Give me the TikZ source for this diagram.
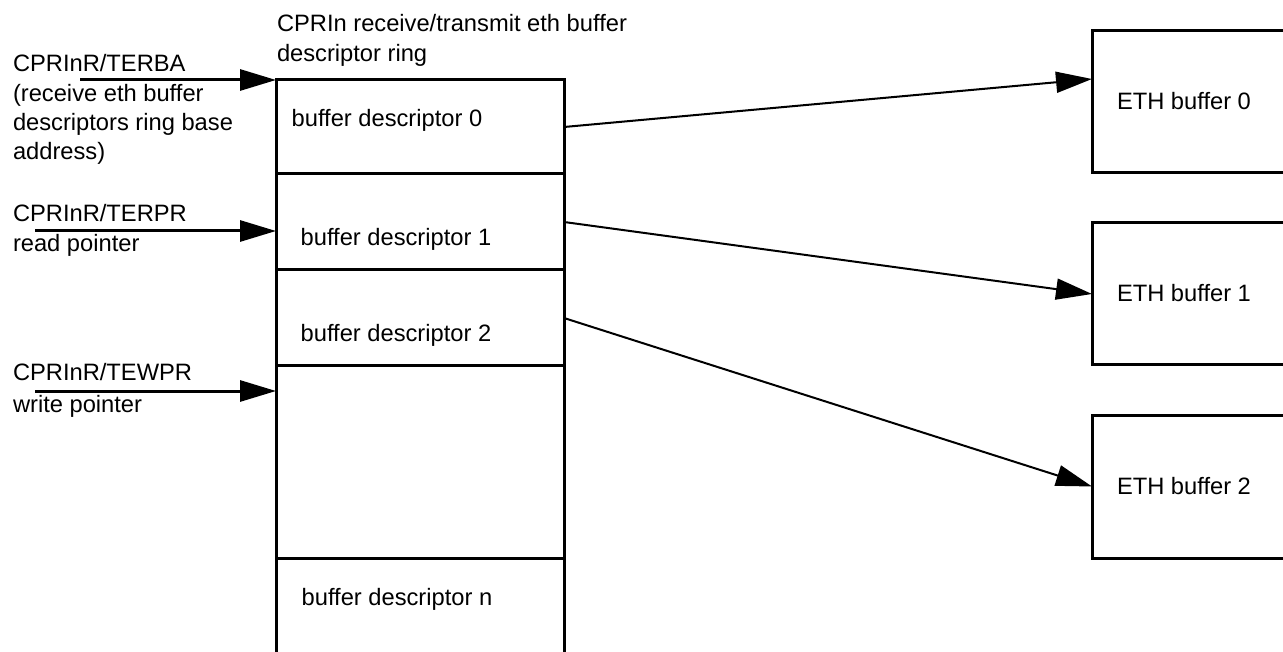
\documentclass[tikz,border=0pt]{standalone}
\usepackage{fontspec}
\setmainfont{Liberation Sans}
\usetikzlibrary{arrows.meta}
\begin{document}
\begin{tikzpicture}[x=1pt,y=-1pt,
  cell/.style={draw, line width=3pt, rectangle, inner sep=0pt, outer sep=0pt, minimum width=288pt},
  ebox/.style={draw, line width=3pt, rectangle, inner sep=0pt, outer sep=0pt, minimum width=300pt},
  txt/.style={anchor=base west, inner sep=0pt, outer sep=0pt, align=left, font=\fontsize{23.7}{30}\selectfont},
  inarrow/.style={line width=3pt, -{Triangle[length=36pt,width=21pt]}},
  outarrow/.style={line width=2pt, -{Triangle[length=36pt,width=21pt]}}]
\useasboundingbox (0,0) rectangle (1283,652);
\clip (0,0) rectangle (1283,652);

% descriptor ring
\node[cell, minimum height=94pt] (c0) at (420,127) {};
\node[cell, minimum height=96pt] (c1) at (420,222) {};
\node[cell, minimum height=96pt] (c2) at (420,318) {};
\node[cell, minimum height=192pt] (c3) at (420,462) {};
\node[cell, minimum height=200pt] (cn) at (420,658) {};

\node[txt] (t0) at (291.7,127) {buffer descriptor 0};
\node[txt] (t1) at (300.7,246) {buffer descriptor 1};
\node[txt] (t2) at (300.7,341.7) {buffer descriptor 2};
\node[txt] (tn) at (301.7,605) {buffer descriptor n};

% multi-line labels: anchored at the baseline of their last line
\node[txt] (title) at (277,62) {CPRIn receive/transmit eth buffer\\descriptor ring};

% ETH buffers
\node[ebox, minimum height=142pt] (e0) at (1242,102) {};
\node[ebox, minimum height=142pt] (e1) at (1242,294) {};
\node[ebox, minimum height=143pt] (e2) at (1242,486.5) {};
\node[txt] (te0) at (1117,110) {ETH buffer 0};
\node[txt] (te1) at (1117,302) {ETH buffer 1};
\node[txt] (te2) at (1117,494) {ETH buffer 2};

% connectors to ETH buffers
\draw[outarrow] (c0.east) -- ([yshift=-48pt]e0.north west);
\draw[outarrow] (c1.east) -- (e1.west);
\draw[outarrow] (c2.east) -- (e2.west);

% pointer labels and arrows
\node[txt, font=\fontsize{23.7}{29.4}\selectfont] (l0) at (13,160) {CPRInR/TERBA\\(receive eth buffer\\descriptors ring base\\address)};
\node[txt] (l1) at (13,251.7) {CPRInR/TERPR\\read pointer};
\node[txt, font=\fontsize{23.7}{32}\selectfont] (l2) at (13,412) {CPRInR/TEWPR\\write pointer};

\coordinate (s0) at (80,80);
\coordinate (s1) at (35,231);
\coordinate (s2) at (35,391);
\draw[inarrow] (s0) -- (c0.north west);
\draw[inarrow] (s1) -- (s1 -| c1.west);
\draw[inarrow] (s2) -- (s2 -| c3.west);
\end{tikzpicture}
\end{document}
